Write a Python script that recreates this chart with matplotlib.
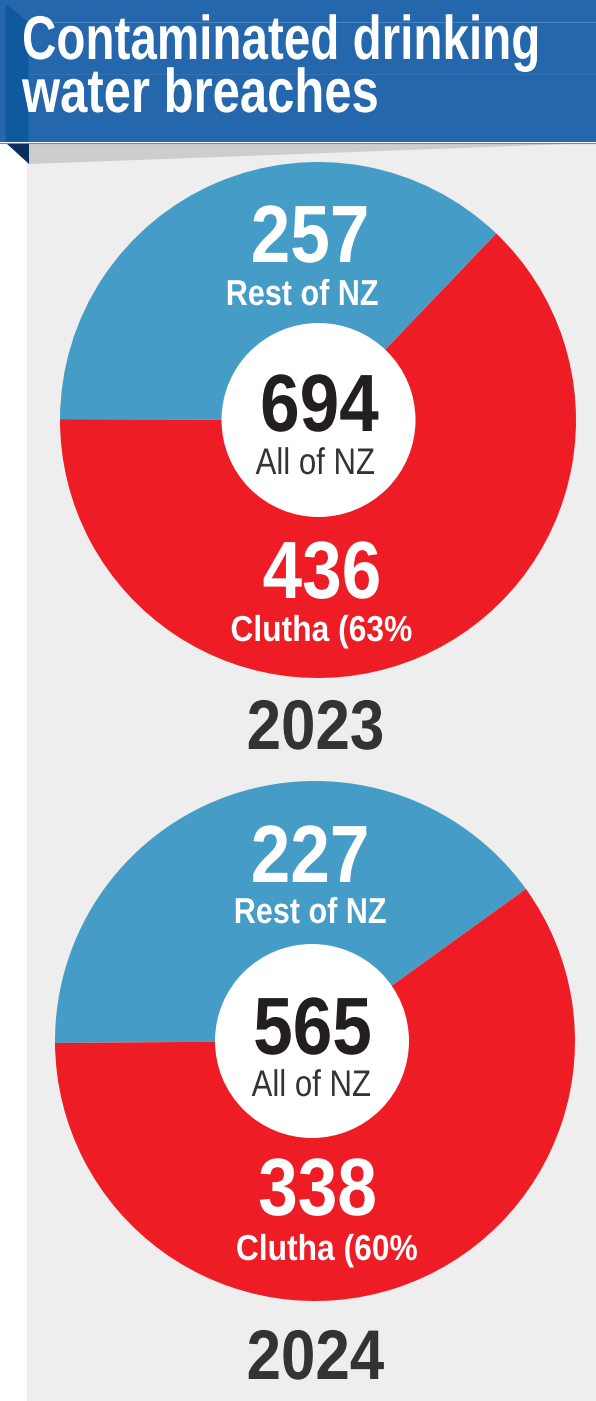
import matplotlib
matplotlib.use('Agg')
import matplotlib.pyplot as plt
from matplotlib.patches import Polygon, Rectangle, Circle
from matplotlib.patheffects import AbstractPathEffect
from matplotlib.transforms import Affine2D

years = ['2023', '2024']
rest = [257, 227]
clutha = [436, 338]
totals = [694, 565]
shares = ['Clutha (63%', 'Clutha (60%']
title_lines = ['Contaminated drinking', 'water breaches']

W, H = 596, 1401
FONT = 'Liberation Sans'
BLUE = '#459cc6'
RED = '#ee1c25'


# no condensed face is installed, so reshape the glyphs around the text anchor
class Condense(AbstractPathEffect):
    def __init__(self, x0, y0, sx, sy):
        super().__init__()
        self.x0, self.y0, self.sx, self.sy = x0, y0, sx, sy

    def draw_path(self, renderer, gc, tpath, affine, rgbFace=None):
        shape = (Affine2D().translate(-self.x0, -self.y0)
                 .scale(self.sx, self.sy).translate(self.x0, self.y0))
        renderer.draw_path(gc, tpath, affine + shape, rgbFace)


fig = plt.figure(figsize=(W / 100, H / 100), dpi=100, facecolor='white')
bg = fig.add_axes([0, 0, 1, 1])
bg.set_xlim(0, W)
bg.set_ylim(H, 0)
bg.axis('off')


def label(x, y, s, size, color='white', weight='bold', sx=1.0, sy=1.0, ha='center', ax=None):
    (ax or bg).text(x, y, s, color=color, fontsize=size, fontweight=weight, family=FONT,
                    ha=ha, va='baseline', path_effects=[Condense(x, H - y, sx, sy)], zorder=10)


bg.add_patch(Rectangle((27, 143), W - 27, H - 143, color='#eeeeee', lw=0))
bg.add_patch(Polygon([(28.5, 143), (596, 143), (28.5, 164)], color='#cdcdcd', lw=0))
bg.add_patch(Rectangle((0, 0), W, 142, color='#2567ad', lw=0))
bg.add_patch(Polygon([(5.5, 4), (28.5, 22), (28.5, 142), (5.5, 142)], color='#0f5a9e', lw=0))
bg.add_patch(Polygon([(5.5, 143), (28.5, 143), (28.5, 164)], color='#0b2f5c', lw=0))
bg.plot([28.5, W], [22, 22], color='#4a84c0', lw=0.7)
bg.plot([28.5, W], [74, 74], color='#3a76b6', lw=0.5)
bg.plot([0, W], [142.5, 142.5], color='#5b8fc7', lw=0.8)
label(22, 59, title_lines[0], 36, sx=0.952, sy=1.236, ha='left')
label(22, 112, title_lines[1], 36, sx=0.98, sy=1.236, ha='left')


def draw_pie(i, cx, cy, r, start, hole_x, layout):
    ax = fig.add_axes([(cx - r) / W, 1 - (cy + r) / H, 2 * r / W, 2 * r / H])
    ax.pie([rest[i], clutha[i]], colors=[BLUE, RED], startangle=start,
           radius=1, wedgeprops={'linewidth': 0})
    ax.set_xlim(-1, 1)
    ax.set_ylim(-1, 1)
    ax.add_patch(Circle(((hole_x - cx) / r, 0), 97 / r, color='white', lw=0))

    top = fig.add_axes([0, 0, 1, 1], facecolor='none')
    top.set_xlim(0, W)
    top.set_ylim(H, 0)
    top.axis('off')
    num = dict(size=52, sx=0.985, sy=1.125, ax=top)
    label(*layout['rest'], str(rest[i]), **num)
    label(*layout['rest_name'], 'Rest of NZ', 22, sy=1.18, ax=top)
    label(*layout['total'], str(totals[i]), color='#231f20', **num)
    label(*layout['all'], 'All of NZ', 23, color='#333333', weight='normal', sx=0.975, sy=1.16, ax=top)
    label(*layout['clutha'], str(clutha[i]), **num)
    label(*layout['share'], shares[i], 23, sx=0.995, sy=1.13, ax=top)
    label(*layout['year'], years[i], 45, color='#333333', sx=0.99, sy=1.125, ax=top)


draw_pie(0, 318, 420, 258, 46.3, 318.5, {
    'rest': (310, 262), 'rest_name': (302, 305), 'total': (319.5, 431), 'all': (315.5, 474),
    'clutha': (322, 598), 'share': (321.5, 641), 'year': (315.5, 749)})
draw_pie(1, 315, 1041, 260, 35.8, 312, {
    'rest': (310, 882), 'rest_name': (310, 923), 'total': (312.5, 1054), 'all': (311.5, 1096),
    'clutha': (317.5, 1215), 'share': (327, 1260), 'year': (315.5, 1379)})

fig.savefig('out.png', dpi=100)
